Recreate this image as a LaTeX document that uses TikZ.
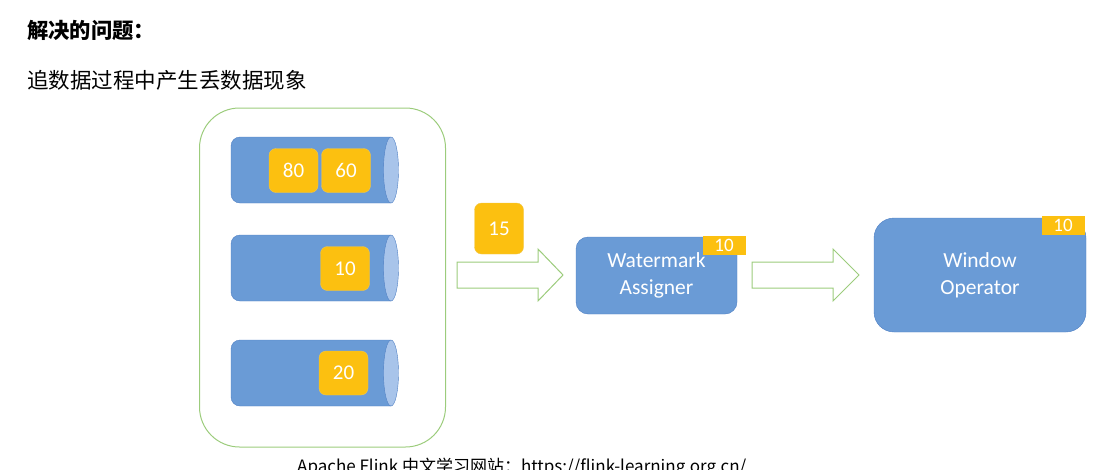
\documentclass[tikz,border=0pt]{standalone}
\usepackage{fontspec}
\setmainfont{Carlito}
\newfontfamily\cjk{Noto Sans CJK SC}
\usetikzlibrary{positioning}

\definecolor{boxblue}{RGB}{106,155,214}
\definecolor{boxedge}{RGB}{80,128,196}
\definecolor{capblue}{RGB}{168,196,234}
\definecolor{msgyellow}{RGB}{252,192,16}
\definecolor{msgedge}{RGB}{240,200,80}
\definecolor{linegreen}{RGB}{156,204,124}

\begin{document}
\begin{tikzpicture}[x=1pt,y=-1pt]
  \tikzstyle{msg}=[rectangle,rounded corners=7pt,fill=msgyellow,draw=msgedge,text=white,minimum width=49pt,minimum height=44pt,inner sep=0pt,font=\fontsize{21}{24}\selectfont]
  \tikzstyle{operator}=[rectangle,fill=boxblue,draw=boxedge,text=white,align=center,font=\fontsize{21.5}{27}\selectfont]
  \tikzstyle{tag}=[rectangle,fill=msgyellow,text=white,inner sep=0pt,minimum width=43pt,minimum height=19pt,font=\fontsize{19}{20}\selectfont]
  \tikzstyle{blockarrow}=[draw=linegreen,fill=white,line width=1pt,line join=miter]
  \useasboundingbox (0,0) rectangle (1096,469);

  % texts
  \node[anchor=west,inner sep=0pt,font=\cjk\bfseries\fontsize{21.3}{24}\selectfont] (title) at (27,30) {解决的问题：};
  \node[anchor=west,inner sep=0pt,font=\cjk\fontsize{21.5}{24}\selectfont] (problem) at (27,80) {追数据过程中产生丢数据现象};
  \node[anchor=north west,inner sep=0pt,font=\cjk\fontsize{17}{20}\selectfont] (site) at (297,458) {Apache Flink 中文学习网站：https://flink-learning.org.cn/};

  % source partitions
  \node[rectangle,rounded corners=40pt,draw=linegreen,line width=1pt,minimum width=246pt,minimum height=339pt] (source) at (322.5,277.5) {};
  \foreach \y in {170,268,373} {
    \draw[fill=boxblue,draw=boxedge,rounded corners=9pt] (391,\y-33) -- (231,\y-33) -- (231,\y+33) -- (391,\y+33);
    \draw[fill=capblue,draw=boxedge] (391,\y) ellipse [x radius=7.5, y radius=33];
  }
  \node[msg] (m80) at (293.5,170.5) {80};
  \node[msg] (m60) at (346,170.5) {60};
  \node[msg] (m10) at (345,268.5) {10};
  \node[msg] (m20) at (343.5,373) {20};
  \node[msg,minimum height=51pt] (m15) at (499,228.5) {15};

  % operators
  \node[operator,rounded corners=12pt,minimum width=161pt,minimum height=77pt] (wm) at (656.5,275.5) {Watermark\\Assigner};
  \node[operator,rounded corners=20pt,minimum width=212pt,minimum height=114pt] (win) at (980,275) {Window\\Operator};
  \node[tag] (wmtag) at (724,245.5) {10};
  \node[tag] (wintag) at (1063,225) {10};

  % arrows
  \draw[blockarrow] (457,262) -- (538,262) -- (538,249) -- (563,275) -- (538,301) -- (538,288) -- (457,288) -- cycle;
  \draw[blockarrow] (752,262) -- (833,262) -- (833,249) -- (859,275) -- (833,301) -- (833,288) -- (752,288) -- cycle;
\end{tikzpicture}
\end{document}
